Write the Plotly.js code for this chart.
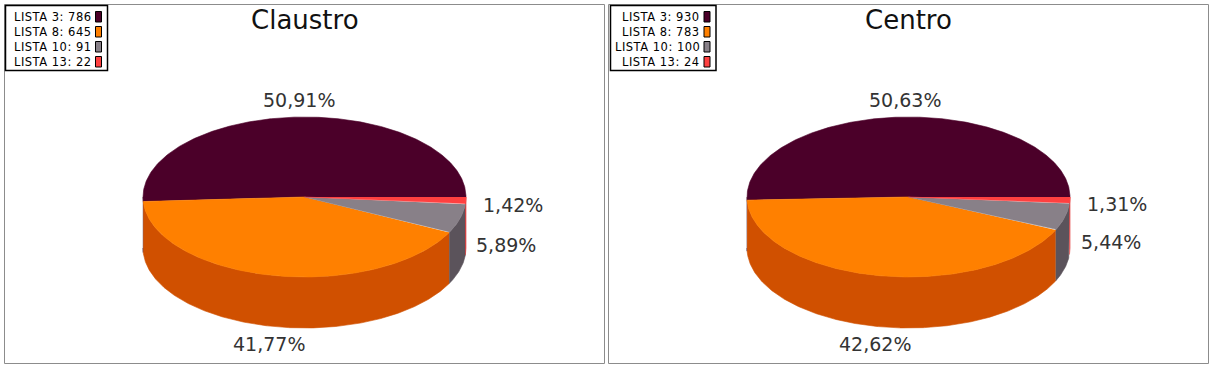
<!DOCTYPE html>
<html><head><meta charset="utf-8">
<script src="https://cdn.plot.ly/plotly-3.0.1.min.js"></script>
<style>html,body{margin:0;padding:0;background:#fff}#chart{width:1220px;height:379px}</style>
</head><body><div id="chart"></div>
<script>
// ---- data ----
const titles = ['Claustro', 'Centro'];
const listas = ['LISTA 3', 'LISTA 8', 'LISTA 10', 'LISTA 13'];
const claustroVotes = [786, 645, 91, 22];
const centroVotes = [930, 783, 100, 24];
const topColors = ['#4b0029', '#ff8000', '#888088', '#ff4040'];
const sideColors = ['#2c0018', '#d05000', '#5b535b', '#e02c2c'];

// ---- layout constants ----
const W = 1220, H = 379;
const CY = 197, RX = 161.5, RY = 80, DEPTH = 51;
const panels = [
  {title: titles[0], values: claustroVotes, x0: 4.5, x1: 604.5, cx: 304.5, boxL: 5.5, boxR: 107.5},
  {title: titles[1], values: centroVotes, x0: 608.5, x1: 1208.5, cx: 908.5, boxL: 610.5, boxR: 716}
];

function pt(cx, a, dy) {
  const r = a * Math.PI / 180;
  return [cx + RX * Math.cos(r), CY - RY * Math.sin(r) + (dy || 0)];
}
function arc(cx, a0, a1, dy) {
  const n = Math.max(2, Math.ceil(Math.abs(a1 - a0) / 0.5));
  const xs = [], ys = [];
  for (let k = 0; k <= n; k++) {
    const p = pt(cx, a0 + (a1 - a0) * k / n, dy);
    xs.push(p[0]); ys.push(p[1]);
  }
  return [xs, ys];
}
function fmt(p) { return p.toFixed(2).replace('.', ',') + '%'; }

const sideTraces = [], topTraces = [], shapes = [], annotations = [];

panels.forEach(P => {
  const total = P.values.reduce((s, v) => s + v, 0);
  let cum = 0;
  shapes.push({type: 'rect', xref: 'x', yref: 'y', x0: P.x0, x1: P.x1, y0: 4.5, y1: 363.5,
    line: {color: '#8c8c8c', width: 1}, layer: 'below'});
  annotations.push({xref: 'x', yref: 'y', x: P.cx, y: 20, text: P.title, showarrow: false,
    xanchor: 'center', yanchor: 'middle', font: {family: 'DejaVu Sans', size: 26, color: '#111'}});
  shapes.push({type: 'rect', xref: 'x', yref: 'y', x0: P.boxL, x1: P.boxR, y0: 5.5, y1: 70.5,
    line: {color: '#000', width: 1.5}, fillcolor: '#fff', layer: 'above'});
  const swR = P.boxR - 6, swL = swR - 6, txtR = swL - 3;

  P.values.forEach((v, i) => {
    const a0 = 360 * cum / total, a1 = 360 * (cum + v) / total;
    cum += v;
    const s0 = Math.max(a0, 180), s1 = Math.min(a1, 360);
    if (s1 > s0) {
      const t = arc(P.cx, s0, s1, 0), b = arc(P.cx, s1, s0, DEPTH);
      sideTraces.push({type: 'scatter', mode: 'lines', x: t[0].concat(b[0]), y: t[1].concat(b[1]),
        fill: 'toself', fillcolor: sideColors[i], line: {color: sideColors[i], width: 0.6},
        hoverinfo: 'skip', showlegend: false});
    }
    const t = arc(P.cx, a0, a1, 0);
    topTraces.push({type: 'scatter', mode: 'lines', x: [P.cx].concat(t[0]), y: [CY].concat(t[1]),
      fill: 'toself', fillcolor: topColors[i], line: {color: topColors[i], width: 0.6},
      hoverinfo: 'skip', showlegend: false});
    const mid = (a0 + a1) / 2 * Math.PI / 180;
    const c = Math.cos(mid), s = Math.sin(mid);
    const lx = P.cx + (RX + 15) * c;
    let ly;
    if (s >= 0) ly = CY - (RY + 17) * s;
    else ly = CY + (RY + 18) * (-s) + DEPTH * Math.min(1, 1.57 * (-s));
    annotations.push({xref: 'x', yref: 'y', x: lx, y: ly, text: fmt(100 * v / total), showarrow: false,
      xanchor: c > 0.6 ? 'left' : (c < -0.6 ? 'right' : 'center'), yanchor: 'middle',
      font: {family: 'DejaVu Sans', size: 19, color: '#333'}});
    const rowY = 16.5 + 15 * i;
    annotations.push({xref: 'x', yref: 'y', x: txtR, y: rowY,
      text: '<span style="letter-spacing:0.5px">' + listas[i] + ': ' + v + '</span>',
      showarrow: false, xanchor: 'right', yanchor: 'middle', borderpad: 0,
      font: {family: 'DejaVu Sans', size: 11.5, color: '#000'}});
    shapes.push({type: 'rect', xref: 'x', yref: 'y', x0: swL, x1: swR, y0: rowY - 5, y1: rowY + 5.5,
      fillcolor: topColors[i], line: {color: '#000', width: 1}, layer: 'above'});
  });
});

const layout = {
  width: W, height: H, margin: {l: 0, r: 0, t: 0, b: 0},
  paper_bgcolor: '#fff', plot_bgcolor: '#fff', showlegend: false,
  xaxis: {range: [0, W], visible: false, fixedrange: true},
  yaxis: {range: [H, 0], visible: false, fixedrange: true},
  shapes: shapes, annotations: annotations
};
Plotly.newPlot('chart', sideTraces.concat(topTraces), layout, {staticPlot: true, displayModeBar: false});
</script>
</body></html>
